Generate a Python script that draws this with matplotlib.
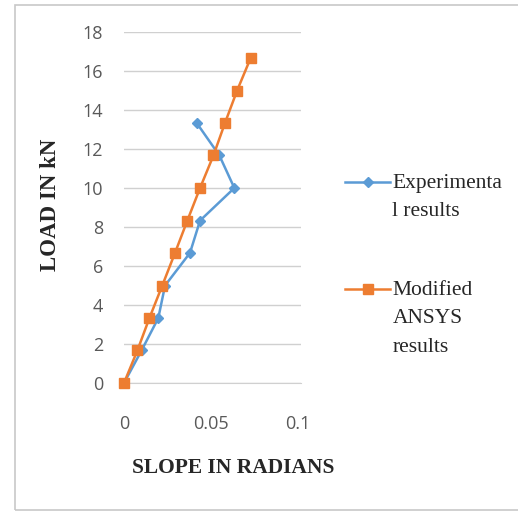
import matplotlib.pyplot as plt
from matplotlib.patches import Rectangle

# slope (radians) vs load (kN)
load = [0, 1.67, 3.33, 5.0, 6.67, 8.33, 10.0, 11.67, 13.33, 15.0, 16.67]
exp_slope = [0, 0.0101, 0.0197, 0.0236, 0.0379, 0.0437, 0.0634, 0.0548, 0.0418]
ansys_slope = [0, 0.0077, 0.0146, 0.022, 0.0293, 0.0364, 0.0437, 0.0514, 0.058, 0.065, 0.0728]
xticks = [0, 0.05, 0.1]
xticklabels = ['0', '0.05', '0.1']
yticks = list(range(0, 19, 2))

blue = '#5B9BD5'
orange = '#ED7D31'

fig = plt.figure(figsize=(5.18, 5.12), dpi=100)
fig.patches.append(Rectangle((15/518, 1-510/512), 1.0, 505/512, transform=fig.transFigure,
                             fill=False, edgecolor='#C8C8C8', linewidth=1.2))

ax = fig.add_axes([124/518, 1-383/512, 177/518, 351/512])

ax.plot(exp_slope, load[:len(exp_slope)], color=blue, lw=1.8, marker='D', ms=5,
        clip_on=False, zorder=3, label='Experimenta\nl results')
ax.plot(ansys_slope, load, color=orange, lw=1.8, marker='s', ms=7,
        clip_on=False, zorder=4, label='Modified\nANSYS\nresults')

ax.set_xlim(0, 0.1017)
ax.set_ylim(0, 18)
ax.set_xticks(xticks)
ax.set_xticklabels(xticklabels)
ax.set_yticks(yticks)
ax.grid(axis='y', color='#D0D0D0', lw=1)
ax.set_axisbelow(True)
for s in ['top', 'right', 'left']:
    ax.spines[s].set_visible(False)
ax.spines['bottom'].set_color('#D0D0D0')
ax.tick_params(length=0, labelsize=13, colors='#595959')
for lab in ax.get_xticklabels() + ax.get_yticklabels():
    lab.set_fontfamily('Open Sans')
ax.tick_params(axis='x', pad=23)
ax.tick_params(axis='y', pad=15)

fig.text(233/518, 1-468/512, 'SLOPE IN RADIANS', ha='center', va='center',
         family='Liberation Serif', weight='bold', fontsize=15.5, color='#262626')
fig.text(51/518, 1-205/512, 'LOAD IN kN', ha='center', va='center', rotation=90,
         family='Liberation Serif', weight='bold', fontsize=16.5, color='#262626')

fs = 15.5
pitch = 21.0  # points between legend text lines
leg = ax.legend(loc='center left', bbox_to_anchor=((345-124)/177, 0.336), frameon=False,
                prop={'family': 'Liberation Serif', 'size': fs}, labelspacing=2.8,
                handlelength=2.1, handletextpad=0.1, borderaxespad=0, borderpad=0)
for t in leg.get_texts():
    t.set_linespacing(1.66)
    t.set_color('#262626')
# move the handles up to the first text line
for h, n in zip(leg.legend_handles, [2, 3]):
    y = h.get_ydata()
    h.set_ydata([v + (n - 1) * 0.5 * pitch for v in y])

fig.savefig('out.png', dpi=100)
